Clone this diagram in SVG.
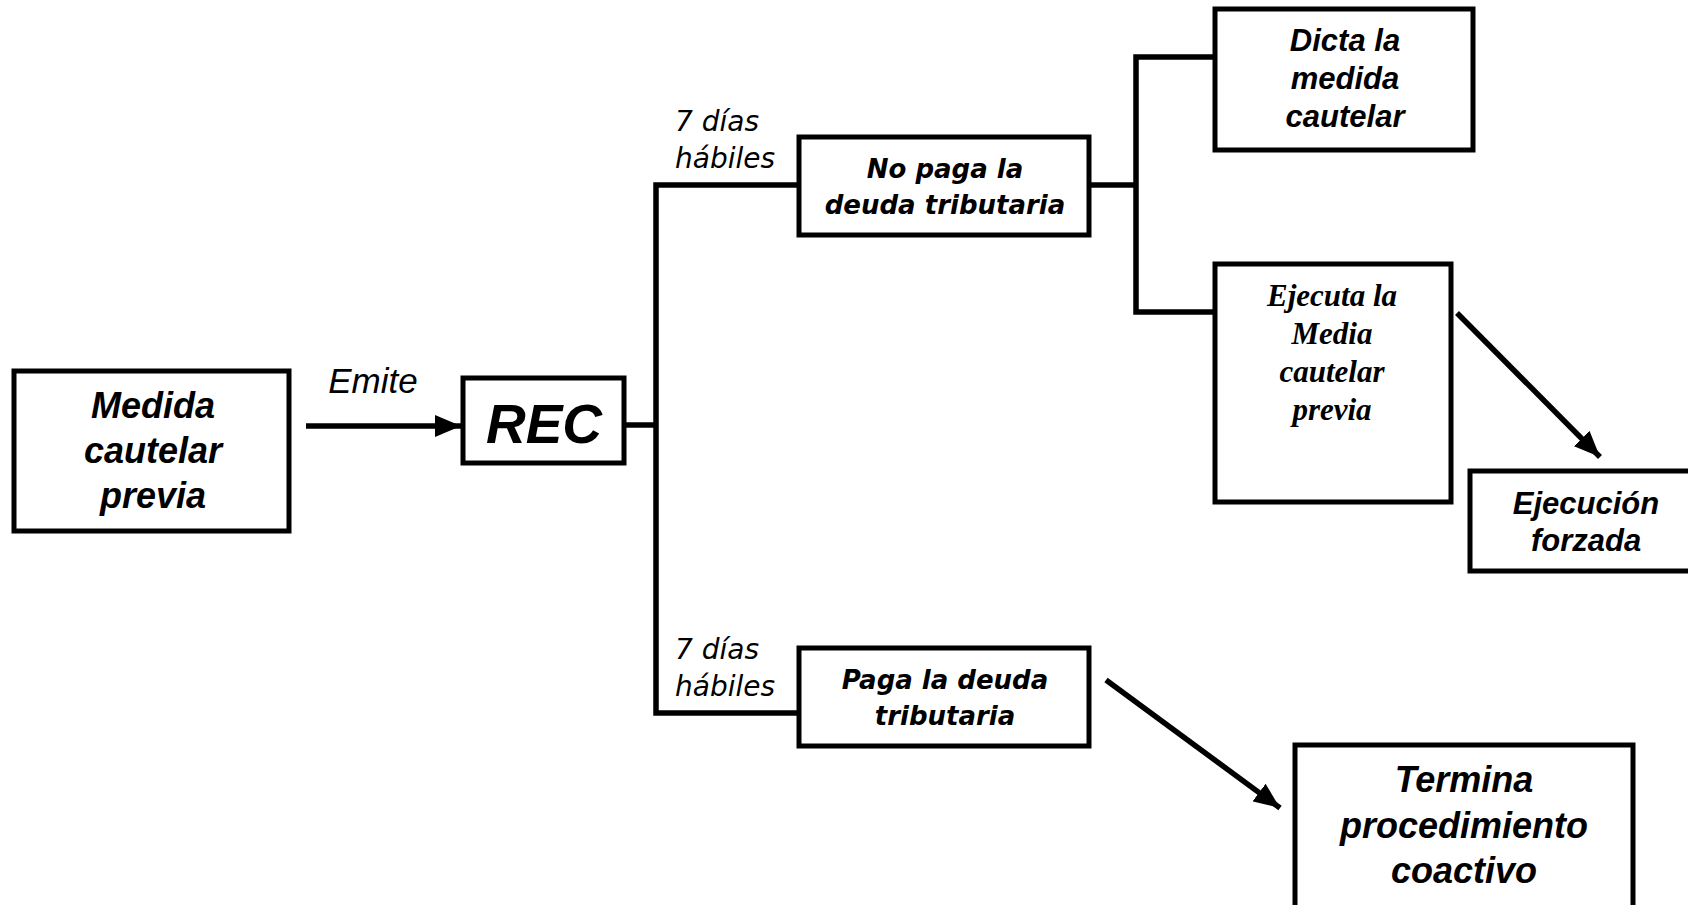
<svg xmlns="http://www.w3.org/2000/svg" width="1688" height="905" viewBox="0 0 1688 905">
<style>
.box{fill:#fff;stroke:#000;stroke-width:5}
.ln{fill:none;stroke:#000;stroke-width:5.5}
.a{font-family:"Liberation Sans",Arial,sans-serif;font-weight:bold;font-style:italic;text-anchor:middle;fill:#000}
.v{font-family:"DejaVu Sans",Verdana,sans-serif;font-weight:bold;font-style:italic;text-anchor:middle;fill:#000;font-size:26px}
.lab{font-family:"DejaVu Sans",Verdana,sans-serif;font-style:italic;fill:#000;font-size:28px}
.t{font-family:"Liberation Serif","Times New Roman",serif;font-weight:bold;font-style:italic;text-anchor:middle;fill:#000;font-size:31px}
</style>
<defs>
<marker id="ah" markerUnits="userSpaceOnUse" markerWidth="28" markerHeight="22" refX="26" refY="11" orient="auto">
<path d="M0,0 L26,11 L0,22 Z" fill="#000"/>
</marker>
</defs>
<rect width="1688" height="905" fill="#fff"/>
<g id="connectors">
<line class="ln" x1="306" y1="426" x2="461" y2="426" marker-end="url(#ah)"/>
<polyline class="ln" points="624,425 656,425"/>
<polyline class="ln" points="799,185 656,185 656,713 799,713"/>
<polyline class="ln" points="1089,185 1136,185"/>
<polyline class="ln" points="1215,57 1136,57 1136,312 1215,312"/>
<line class="ln" x1="1457" y1="313" x2="1600" y2="457" marker-end="url(#ah)"/>
<line class="ln" x1="1106" y1="680" x2="1280" y2="808" marker-end="url(#ah)"/>
<text x="373" y="393" style="font-family:'Liberation Sans',Arial,sans-serif;font-style:italic;font-size:35px" text-anchor="middle">Emite</text>
<text class="lab" x="675" y="131">7 días</text>
<text class="lab" x="675" y="168">hábiles</text>
<text class="lab" x="675" y="659">7 días</text>
<text class="lab" x="675" y="696">hábiles</text>
</g>
<g id="medida">
<rect class="box" x="14" y="371" width="275" height="160"/>
<text class="a" x="153" y="418" font-size="36">Medida</text>
<text class="a" x="153" y="463" font-size="36">cautelar</text>
<text class="a" x="153" y="508" font-size="36">previa</text>
</g>
<g id="rec">
<rect class="box" x="463" y="378" width="161" height="85"/>
<text class="a" x="544" y="443" font-size="55">REC</text>
</g>
<g id="nopaga">
<rect class="box" x="799" y="137" width="290" height="98"/>
<text class="v" x="945" y="178">No paga la</text>
<text class="v" x="945" y="214">deuda tributaria</text>
</g>
<g id="paga">
<rect class="box" x="799" y="648" width="290" height="98"/>
<text class="v" x="945" y="689">Paga la deuda</text>
<text class="v" x="945" y="725">tributaria</text>
</g>
<g id="dicta">
<rect class="box" x="1215" y="9" width="258" height="141"/>
<text class="a" x="1345" y="51" font-size="31">Dicta la</text>
<text class="a" x="1345" y="89" font-size="31">medida</text>
<text class="a" x="1345" y="127" font-size="31">cautelar</text>
</g>
<g id="ejecuta">
<rect class="box" x="1215" y="264" width="236" height="238"/>
<text class="t" x="1332" y="306">Ejecuta la</text>
<text class="t" x="1332" y="344">Media</text>
<text class="t" x="1332" y="382">cautelar</text>
<text class="t" x="1332" y="420">previa</text>
</g>
<g id="ejecucion">
<rect class="box" x="1470" y="471" width="240" height="100"/>
<text class="a" x="1586" y="514" font-size="31">Ejecución</text>
<text class="a" x="1586" y="551" font-size="31">forzada</text>
</g>
<g id="termina">
<rect class="box" x="1295" y="745" width="338" height="170"/>
<text class="a" x="1464" y="792" font-size="36">Termina</text>
<text class="a" x="1464" y="838" font-size="36">procedimiento</text>
<text class="a" x="1464" y="883" font-size="36">coactivo</text>
</g>
</svg>
